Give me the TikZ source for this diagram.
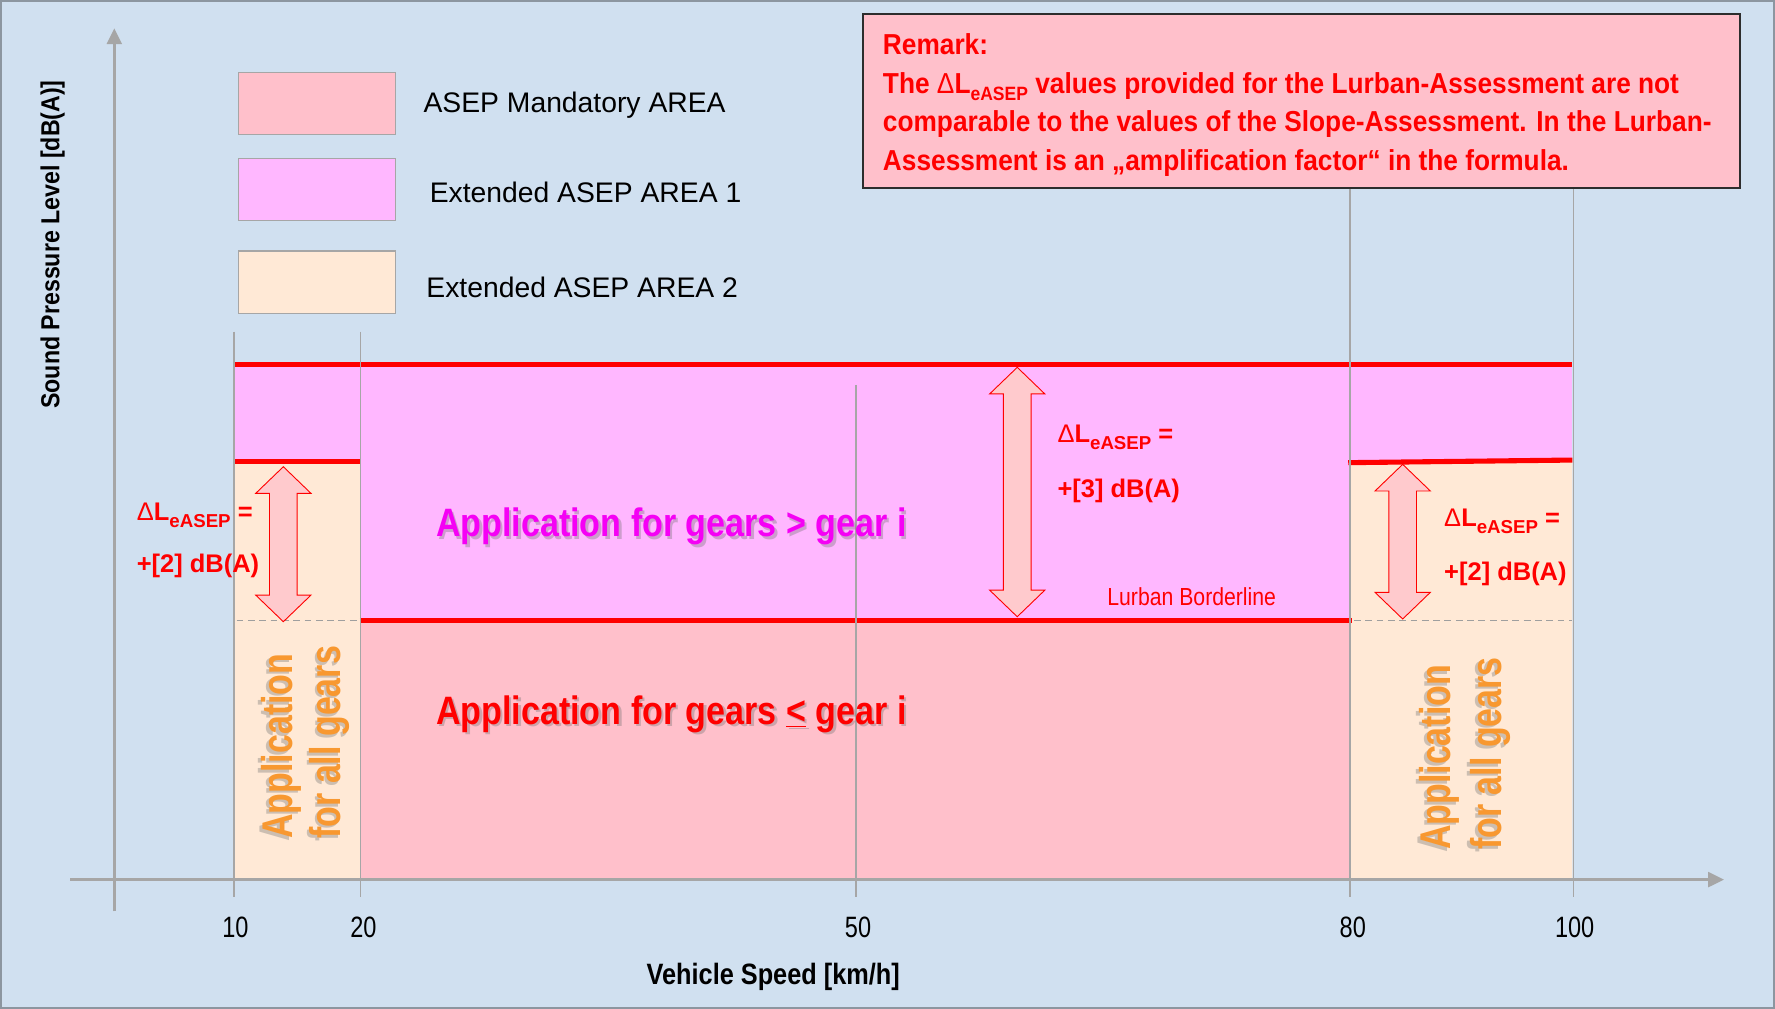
\documentclass[tikz,border=0pt]{standalone}
\usepackage{fontspec}
\setmainfont{Liberation Sans}
\newfontfamily\rmkfont[FakeStretch=0.91]{Liberation Sans}
\newfontfamily\nrwfont[FakeStretch=0.86]{Liberation Sans}
\newfontfamily\ylblfont[FakeStretch=0.89]{Liberation Sans}
\newfontfamily\tickfont[FakeStretch=0.80]{Liberation Sans}
\newfontfamily\vertfont[FakeStretch=0.79]{Liberation Sans}
\usetikzlibrary{arrows.meta}

\definecolor{bgblue}{RGB}{208,224,240}
\definecolor{framegray}{RGB}{140,150,160}
\definecolor{mandpink}{RGB}{255,192,203}
\definecolor{extviolet}{RGB}{255,183,255}
\definecolor{extpeach}{RGB}{255,233,214}
\definecolor{axisgray}{RGB}{166,166,166}
\definecolor{arrowfill}{RGB}{255,202,205}
\definecolor{appmagenta}{RGB}{245,0,245}
\definecolor{apporange}{RGB}{248,152,48}
\definecolor{shadowgray}{RGB}{110,110,110}
\definecolor{boxedge}{RGB}{45,45,45}

\newcommand{\fsz}[1]{\fontsize{#1}{#1}\selectfont}
% lowered, smaller index text: drop, size, text
\newcommand{\lowsub}[3]{\raisebox{-#1pt}{\fsz{#2}#3}}
% double-headed block arrow: x, top tip y, bottom tip y
\newcommand{\dblarrow}[3]{%
  \pgfmathsetmacro{\hda}{#2+23.5}%
  \pgfmathsetmacro{\hdb}{#3-23.5}%
  \draw[blockarrow] (#1,#2) -- (#1+24.4,\hda) -- (#1+12.2,\hda)
    -- (#1+12.2,\hdb) -- (#1+24.4,\hdb) -- (#1,#3) -- (#1-24.4,\hdb)
    -- (#1-12.2,\hdb) -- (#1-12.2,\hda) -- (#1-24.4,\hda) -- cycle;}

\begin{document}
\begin{tikzpicture}[x=1pt, y=-1pt,
  gridline/.style={draw=axisgray, line width=1.6},
  limitline/.style={draw=red, line width=4.5},
  helpline/.style={draw=gray!75, line width=1.5, dash pattern=on 6pt off 4pt},
  axisline/.style={draw=axisgray, line width=2.6, -{Triangle[length=14pt,width=13pt]}},
  blockarrow/.style={draw=red, line width=0.8, fill=arrowfill},
  legbox/.style={draw=gray!70, line width=1.2, minimum width=139pt, minimum height=55pt, inner sep=0},
  legtext/.style={font=\fsz{25}, anchor=base west, inner sep=0},
  rmktext/.style={font=\rmkfont\bfseries\fsz{25.5}, text=red, anchor=base west, inner sep=0},
  deltatext/.style={font=\bfseries\fsz{22.5}, text=red, anchor=base west, inner sep=0},
  bigtext/.style={font=\nrwfont\bfseries\fsz{35}, anchor=base west, inner sep=0},
  verttext/.style={font=\vertfont\bfseries\fsz{38}, anchor=base west, inner sep=0, rotate=90},
  shadowtext/.style={text=shadowgray, opacity=0.35},
  ticklabel/.style={font=\tickfont\fsz{26}, anchor=base, inner sep=0},
  axislabel/.style={inner sep=0}
]
% canvas
\path[use as bounding box] (0,0) rectangle (1568,891);
\fill[bgblue] (0,0) rectangle (1568,891);
\draw[framegray, line width=1.4] (0.7,0.7) rectangle (1567.3,890.3);

% areas
\fill[extviolet] (207,322) rectangle (1389,408.5);
\fill[extviolet] (318,408) rectangle (1193,548);
\fill[extpeach] (207,408) rectangle (318,777);
\fill[extpeach] (1193,408.7) -- (1389,406.4) -- (1389,777) -- (1193,777) -- cycle;
\fill[mandpink] (318,548) rectangle (1193,777);

% limit lines
\draw[limitline] (207,322) -- (1389,322);
\draw[limitline] (207,408) -- (318,408);
\draw[limitline] (1191,408.7) -- (1389,406.4);
\draw[limitline] (318,548) -- (1194,548);
\draw[helpline] (209,548) -- (318,548);
\draw[helpline] (1196,548) -- (1389,548);

% speed marks
\draw[gridline] (207,293) -- (207,792);
\draw[gridline] (318.5,293) -- (318.5,792);
\draw[gridline] (756,340) -- (756,792);
\draw[gridline] (1192.5,166) -- (1192.5,792);
\draw[gridline] (1390,166) -- (1390,792);

% axes
\draw[axisline] (62,777) -- (1523,777);
\draw[axisline] (101,805) -- (101,25);

% legend
\node[legbox, fill=mandpink] (legmand) at (280,91.3) {};
\node[legbox, fill=extviolet] (legext1) at (280,167.4) {};
\node[legbox, fill=extpeach] (legext2) at (280,249.2) {};
\node[legtext] (lblmand) at (374,99.5) {ASEP Mandatory AREA};
\node[legtext] (lblext1) at (379.5,178.5) {Extended ASEP AREA 1};
\node[legtext] (lblext2) at (376.5,263) {Extended ASEP AREA 2};

% remark
\node[draw=boxedge, line width=1.5, fill=mandpink, minimum width=774.6pt, minimum height=153.6pt, inner sep=0] (remark) at (1149.7,89.2) {};
\node[rmktext] (rmk1) at (779.8,48.3) {Remark:};
\node[rmktext] (rmk2) at (779.8,82.4) {The {\mdseries Δ}L\lowsub{6.5}{17}{eASEP} values provided for the Lurban-Assessment are not};
\node[rmktext] (rmk3) at (779.8,116.2) {comparable to the values of the Slope-Assessment. In the Lurban-};
\node[rmktext] (rmk4) at (779.8,150.2) {Assessment is an „amplification factor“ in the formula.};

% level differences
\dblarrow{250.3}{412.3}{549.2}
\dblarrow{898.6}{324.5}{544.8}
\dblarrow{1239.1}{410.2}{546.8}

\node[deltatext] (dleft1) at (120.7,459.5) {{\mdseries Δ}L\lowsub{6.5}{16.5}{eASEP} =};
\node[deltatext] (dleft2) at (120.7,505.5) {+[2] dB(A)};
\node[deltatext] (dmid1) at (934,391) {{\mdseries Δ}L\lowsub{6.5}{16.5}{eASEP} =};
\node[deltatext] (dmid2) at (934,439.5) {+[3] dB(A)};
\node[deltatext] (dright1) at (1275.6,465) {{\mdseries Δ}L\lowsub{6.5}{16.5}{eASEP} =};
\node[deltatext] (dright2) at (1275.6,512.5) {+[2] dB(A)};

\node[font=\nrwfont\fsz{21.8}, text=red, anchor=base west, inner sep=0] (lurban) at (978,535.3) {Lurban Borderline};

% application texts
\node[bigtext, shadowtext] at (387.2,476.2) {Application for gears > gear i};
\node[bigtext, text=appmagenta] (appup) at (385,474) {Application for gears > gear i};
\node[bigtext, shadowtext] at (387.2,642.2) {Application for gears \underline{<} gear i};
\node[bigtext, text=red] (applow) at (385,640) {Application for gears \underline{<} gear i};

\node[verttext, shadowtext] at (256,743.2) {Application};
\node[verttext, shadowtext] at (299,743.2) {for all gears};
\node[verttext, text=apporange] (allleft1) at (258,741) {Application};
\node[verttext, text=apporange] (allleft2) at (301,741) {for all gears};
\node[verttext, shadowtext] at (1279,753.2) {Application};
\node[verttext, shadowtext] at (1324,753.2) {for all gears};
\node[verttext, text=apporange] (allright1) at (1281,751) {Application};
\node[verttext, text=apporange] (allright2) at (1326,751) {for all gears};

% axis labels
\node[ticklabel] (t10) at (208,828) {10};
\node[ticklabel] (t20) at (321,828) {20};
\node[ticklabel] (t50) at (758,828) {50};
\node[ticklabel] (t80) at (1195,828) {80};
\node[ticklabel] (t100) at (1391,828) {100};
\node[axislabel, font=\nrwfont\bfseries\fsz{26}, anchor=base west] (xlabel) at (571,870) {Vehicle Speed [km/h]};
\node[axislabel, font=\ylblfont\bfseries\fsz{23}, anchor=base, rotate=90] (ylabel) at (52.4,216) {Sound Pressure Level [dB(A)]};
\end{tikzpicture}
\end{document}
